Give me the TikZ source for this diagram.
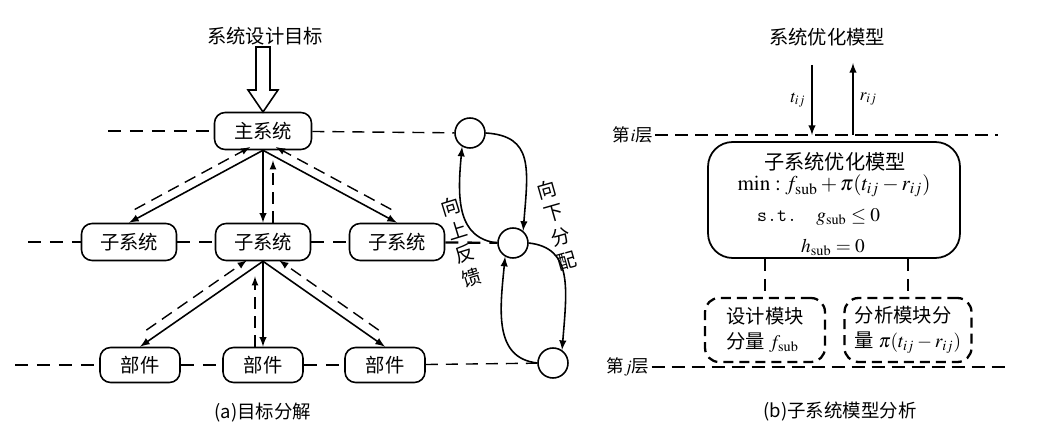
\documentclass[tikz,border=0pt]{standalone}
\usepackage{mathptmx}
\usepackage{fontspec}
\setmainfont{Liberation Serif}
\newfontfamily\cjk{Noto Sans CJK SC}
\usetikzlibrary{positioning}
\usetikzlibrary{calc}
\tikzset{
  unit/.style={rectangle,draw,rounded corners=6pt,line width=0.9pt,font=\cjk\fontsize{11}{13}\selectfont,inner sep=0pt},
  mainbox/.style={unit,minimum width=1.94cm,minimum height=0.74cm},
  subbox/.style={unit,minimum width=1.9cm,minimum height=0.74cm},
  partbox/.style={unit,minimum width=1.6cm,minimum height=0.7cm},
  level/.style={circle,draw,line width=0.9pt,minimum size=0.6cm,inner sep=0pt},
  layer/.style={line width=1.3pt,dash pattern=on 0.26cm off 0.18cm},
  thinlayer/.style={line width=0.8pt,dash pattern=on 0.24cm off 0.16cm},
  blayer/.style={line width=1.5pt,dash pattern=on 0.26cm off 0.14cm},
  down/.style={line width=0.9pt,-latex},
  up/.style={line width=0.8pt,-latex,dash pattern=on 0.24cm off 0.14cm},
  cn/.style={font=\cjk\fontsize{11}{14}\selectfont},
  captext/.style={font=\cjk\fontsize{10.5}{12}\selectfont},
  lay/.style={font=\cjk\fontsize{10}{12}\selectfont,inner sep=1pt},
  dbox/.style={draw,line width=1.3pt,dash pattern=on 0.2cm off 0.12cm,rounded corners=8pt,font=\cjk\fontsize{11}{14}\selectfont,align=left,inner sep=2pt},
}

\begin{document}
\begin{tikzpicture}[x=0.02cm,y=-0.02cm]
\useasboundingbox (0,0) rectangle (1051,445);
  \node(goal)[cn] at (265,36){系统设计目标};
  \node(main)[mainbox] at (263,131){主系统};
  \node(s1)[subbox] at (129,242){子系统};
  \node(s2)[subbox] at (263,242){子系统};
  \node(s3)[subbox] at (397,242){子系统};
  \node(p1)[partbox] at (140,365){部件};
  \node(p2)[partbox] at (263,365){部件};
  \node(p3)[partbox] at (385,365){部件};
  \node(c1)[level] at (470,133){};
  \node(c2)[level] at (513,243){};
  \node(c3)[level] at (553,363){};
  \node(fup)[cn,align=center,rotate=17] at (461,242){向\\上\\反\\馈};
  \node(fdown)[cn,align=center,rotate=16] at (557,225){向\\下\\分\\配};
  \node(capa)[captext] at (263,413){(a)目标分解};
  \coordinate(l1) at (108,131);
  \coordinate(l2) at (28,242);
  \coordinate(l3) at (15,365);
\draw[line width=0.9pt,fill=white](256,47)--(270,47)--(270,90)--(278,90)--(263,112)--(248,90)--(256,90)--cycle;
\draw[layer](l1)--(main);
\draw[thinlayer](main)--(c1);
\draw[layer](l2)--(s1);
\draw[layer](s1)--(s2);
\draw[layer](s2)--(s3);
\draw[layer](s3)--(c2);
\draw[layer](l3)--(p1);
\draw[layer](p1)--(p2);
\draw[layer](p2)--(p3);
\draw[thinlayer](p3)--(c3);
\draw[down](main.south)--(s1.north);
\draw[down](main.south)--(s2.north);
\draw[down](main.south)--(s3.north);
\draw[up,shorten <=0.22cm,shorten >=0.2cm,transform canvas={shift={(-4,-8)}}](s1.north)--(main.south);
\draw[up,shorten >=0.2cm,transform canvas={shift={(10,0)}}](s2.north)--(main.south);
\draw[up,shorten <=0.22cm,shorten >=0.2cm,transform canvas={shift={(4,-8)}}](s3.north)--(main.south);
\draw[down](s2.south)--(p1.north);
\draw[down](s2.south)--(p2.north);
\draw[down](s2.south)--(p3.north);
\draw[up,shorten <=0.3cm,shorten >=0.25cm,transform canvas={shift={(-6,-8)}}](p1.north)--(s2.south);
\draw[up,shorten >=0.3cm,transform canvas={shift={(-8,0)}}](p2.north)--(s2.south);
\draw[up,shorten <=0.3cm,shorten >=0.25cm,transform canvas={shift={(6,-8)}}](p3.north)--(s2.south);
\draw[down](c1.east) .. controls +(48,3) and +(5,-62) .. (c2.50);
\draw[down](c2.west) .. controls +(-40,-5) and +(-5,52) .. (c1.240);
\draw[down](c2.east) .. controls +(44,5) and +(5,-62) .. (c3.55);
\draw[down](c3.west) .. controls +(-44,-5) and +(-5,52) .. (c2.240);

  \node(opt)[cn] at (827,37){系统优化模型};
  \coordinate(ttop) at (812,65);
  \coordinate(tbot) at (812,135);
  \coordinate(rbot) at (853,135);
  \coordinate(rtop) at (853,63);
  \node(li)[lay] at (633,135){第$i$层};
  \node(lj)[lay] at (628,367){第$j$层};
  \coordinate(liend) at (998,135);
  \coordinate(ljend) at (1005,367);
  \node(model)[draw,line width=1pt,rounded corners=14pt,minimum width=5.04cm,minimum height=2.32cm] at (834,200){};
  \node(mt)[font=\cjk\fontsize{11.5}{14}\selectfont,inner sep=0pt] at (835,162){子系统优化模型};
  \node(mf)[font=\fontsize{12}{14}\selectfont,inner sep=0pt] at (834,186){$\min: f_{\mathrm{sub}}+\pi(t_{ij}-r_{ij})$};
  \node(mg)[anchor=west,font=\fontsize{11}{13}\selectfont] at (751,217){\texttt{s.t.}\quad $g_{\mathrm{sub}}\le 0$};
  \node(mh)[font=\fontsize{11}{13}\selectfont] at (833,247){$h_{\mathrm{sub}}=0$};
  \node(design)[dbox,minimum width=2.4cm,minimum height=1.28cm] at (765,330){设计模块\\分量 $f_{\mathrm{sub}}$};
  \node(analysis)[dbox,minimum width=2.54cm,minimum height=1.28cm] at (908,330){分析模块分\\量 $\pi(t_{ij}-r_{ij})$};
  \node(capb)[captext] at (840,412){(b)子系统模型分析};
\draw[down](ttop)--(tbot) node[midway,left]{$t_{ij}$};
\draw[down](rbot)--(rtop) node[midway,right]{$r_{ij}$};
\draw[blayer](li.east)--(liend);
\draw[blayer](lj.east)--(ljend);
\draw[thinlayer](model.south -| design.north)--(design.north);
\draw[thinlayer](model.south -| analysis.north)--(analysis.north);
\end{tikzpicture}
\end{document}
